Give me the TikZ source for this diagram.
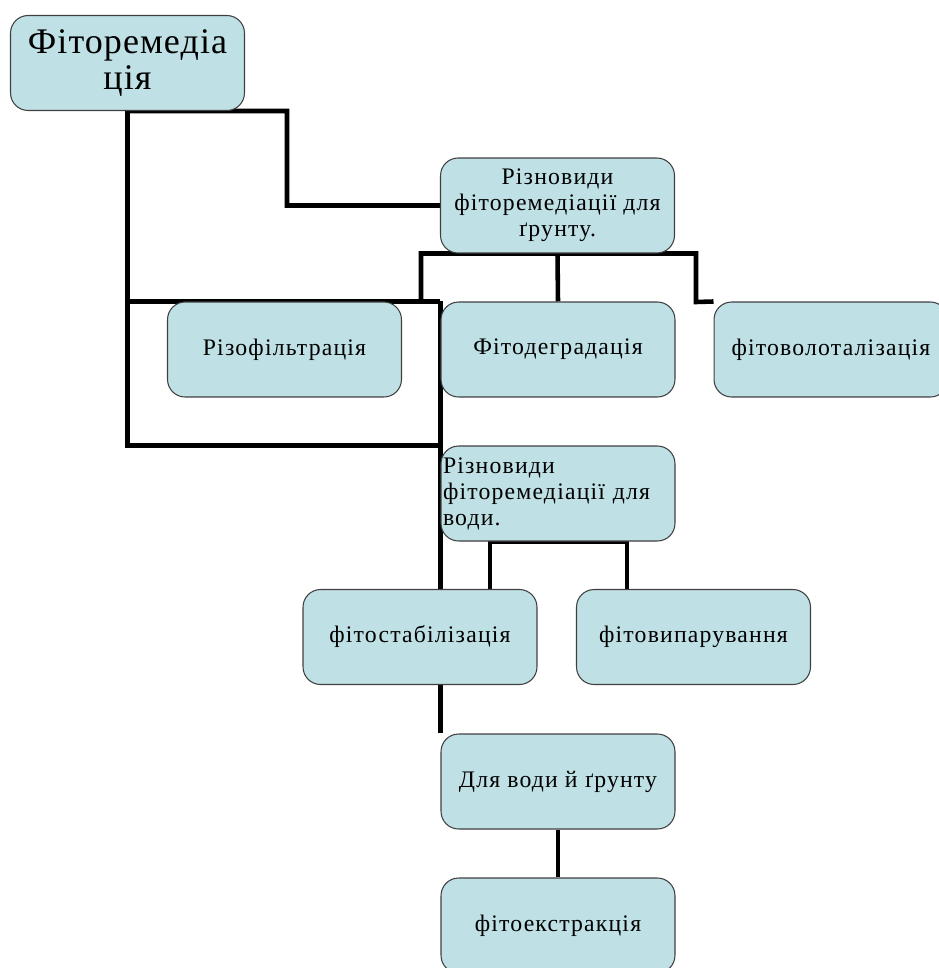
\documentclass[tikz,border=0pt]{standalone}
\usepackage{fontspec}
\setmainfont{Liberation Serif}
\usetikzlibrary{positioning,backgrounds}
\definecolor{PhytoFill}{HTML}{BFE0E4}
\definecolor{PhytoBorder}{HTML}{404040}

\begin{document}
\begin{tikzpicture}[
  x=0.02cm,y=-0.02cm,
  phbox/.style={draw=PhytoBorder,line width=0.6pt,rounded corners=10pt,fill=PhytoFill,minimum width=4.68cm,minimum height=1.9cm,align=center,font=\fontsize{13.5}{14.8}\selectfont\addfontfeatures{LetterSpace=5}},
  link/.style={line width=2.6pt}
]
\useasboundingbox (0,0) rectangle (939,968);
\clip (0,0) rectangle (939,968);

\node[phbox,font=\fontsize{20.5}{20.5}\selectfont\addfontfeatures{LetterSpace=3}] (root) at (127.5,63) {Фіторемедіа\\ція};
\node[phbox] (soil) at (557.5,205.5) {Різновиди\\фіторемедіації для\\ґрунту.};
\node[phbox] (rizo) at (284.5,349.5) {Різофільтрація};
\node[phbox] (degr) at (558,349.5) {Фітодеградація};
\node[phbox] (vol) at (831,349.5) {фітоволоталізація};
\node[phbox,text width=4.6cm,inner xsep=1pt,align=left] (water) at (558,493.5) {Різновиди\\фіторемедіації для\\води.};
\node[phbox] (stab) at (420,637) {фітостабілізація};
\node[phbox] (vyp) at (693.5,637) {фітовипарування};
\node[phbox] (both) at (558,781.5) {Для води й ґрунту};
\node[phbox] (ekstr) at (558,925.5) {фітоекстракція};

% junctions of the connectors
\coordinate (jsoil) at (287,111);
\coordinate (jrizo) at (421,302);
\coordinate (jvol) at (696,302);
\coordinate (jstab) at (490,589);
\coordinate (jvyp) at (627,589);

\begin{scope}[on background layer]
\draw[link] (root.south) |- (water.north west);
\draw[link] (root.south) -- (jsoil) |- (soil.west);
\draw[link] (root.south |- rizo.north) -- (degr.north west);
\draw[link] (degr.north west) -- (both.north west);
\draw[link] (jrizo) |- (soil.south) -| (jvol) -- (vol.north west);
\draw[link] (soil.south) -- (degr.north);
\draw[link] (jstab) |- (water.south) -| (jvyp);
\draw[link] (both.south) -- (ekstr.north);
\end{scope}
\end{tikzpicture}
\end{document}
